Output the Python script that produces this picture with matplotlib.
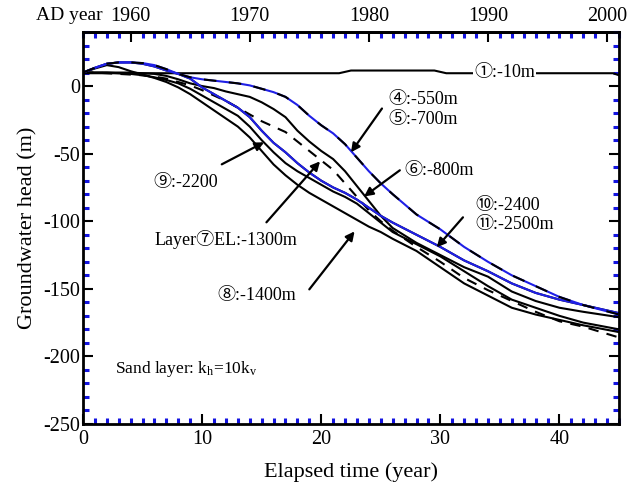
import matplotlib
matplotlib.use("Agg")
import matplotlib.pyplot as plt
from matplotlib.ticker import MultipleLocator, FuncFormatter

plt.rcParams['font.family'] = ['Liberation Serif', 'Noto Sans CJK JP', 'DejaVu Sans']
plt.rcParams['axes.unicode_minus'] = False
plt.rcParams['mathtext.fontset'] = 'custom'
plt.rcParams['mathtext.rm'] = 'Liberation Serif'
plt.rcParams['mathtext.it'] = 'Liberation Serif'

# ---- data ----
x_grid = [0, 1, 2, 3, 4, 5, 6, 7, 8, 9, 10, 11, 12, 13, 14, 15, 16, 17, 18, 19,
          20, 21, 22, 23, 24, 25, 26, 28, 30, 32, 34, 36, 38, 40, 42, 45]

head_4_5 = [10, 13.5, 16.5, 17.5, 17.5, 17, 15.5, 12.5, 9, 6.5, 5, 4, 3, 2, 0.5, -2, -4.5, -8, -14, -22,
            -29, -35, -43, -53, -63, -72, -80, -95, -106, -119, -130, -140, -148, -156, -162, -169]
head_10_11 = [10, 13.5, 16.5, 17.5, 17.5, 16.5, 14.5, 11.5, 9, 5.5, -1, -6, -11, -16, -23, -33, -42, -49, -57, -64,
              -70, -75, -79, -84, -90, -96, -101, -110, -119, -129, -137, -146, -153, -158, -162, -168]
head_6 = [10, 10, 10, 10, 10, 9.5, 9, 7.5, 5, 2, 0, -1.5, -4, -6, -8, -12, -17, -23, -33, -41,
          -48, -54, -63, -74, -85, -96, -105, -116, -125, -134, -141, -152, -159, -164, -167, -171]
head_7 = [10, 10, 9.5, 9, 8.5, 8, 7, 5.5, 3, 0.5, -3, -7, -11, -16, -21, -26, -30, -34, -41, -48,
          -55, -62, -72, -82, -92, -100, -107, -119, -130, -142, -151, -159, -167, -174, -178, -186]
head_9 = [10, 10, 10, 9.5, 9, 8, 6.5, 4.5, 2, -2, -7, -12, -17, -22, -30, -40, -49, -57, -63, -68,
          -73, -78, -82, -87, -94, -101, -108, -117, -126, -137, -148, -158, -164, -170, -175, -180]
head_8 = [10, 13, 15.5, 14, 11, 8.5, 6, 3, -1, -6, -12, -18, -24, -30, -38, -48, -58, -66, -73, -79,
          -84, -89, -94, -99, -104, -108, -113, -122, -134, -146, -155, -164, -169, -173, -177, -182]

x_1 = [0, 21.5, 22.5, 29.5, 30.5, 44.5, 45]
head_1 = [9.5, 9.5, 11.5, 11.5, 9.5, 9.5, 8]

start_year = 1956
top_ticks = [1960, 1970, 1980, 1990, 2000]

# ---- figure ----
fig = plt.figure(figsize=(6.27, 4.87), dpi=100)
ax = fig.add_axes([83/627, 1-424/487, 536/627, 392/487])

lw = 1.5
ax.plot(x_1, head_1, color='k', lw=lw)
ax.plot(x_grid, head_8, color='k', lw=lw)
ax.plot(x_grid, head_9, color='k', lw=lw)
ax.plot(x_grid, head_6, color='k', lw=lw)
ax.plot(x_grid, head_7, color='k', lw=lw, ls=(0, (5, 4)))
ax.plot(x_grid, head_10_11, color='k', lw=lw)
ax.plot(x_grid, head_10_11, color='#1f1fe6', lw=lw)
ax.plot(x_grid, head_4_5, color='#1f1fe6', lw=lw)
ax.plot(x_grid, head_4_5, color='k', lw=lw, ls=(0, (6, 6)))

ax.set_xlim(0, 45)
ax.set_ylim(-250, 40)

blue = '#1414e0'
ax.xaxis.set_major_locator(MultipleLocator(10))
ax.xaxis.set_minor_locator(MultipleLocator(1))
ax.yaxis.set_major_locator(MultipleLocator(50))
ax.yaxis.set_minor_locator(MultipleLocator(10))
ax.tick_params(which='major', direction='in', length=7, width=1.5, color='k',
               labelsize=14.5, top=False, right=True, pad=2)
ax.tick_params(axis='x', which='major', pad=4)
ax.tick_params(which='minor', direction='in', length=4, width=2.2, color=blue,
               top=False, right=True)
ax.yaxis.set_major_formatter(FuncFormatter(lambda v, p: '%d' % v))
for s in ax.spines.values():
    s.set_linewidth(2)

sec = ax.secondary_xaxis('top', functions=(lambda x: x + start_year, lambda y: y - start_year))
sec.set_xticks(top_ticks)
sec.xaxis.set_minor_locator(MultipleLocator(1))
sec.tick_params(which='major', direction='in', length=7, width=1.5, color='k', labelsize=14.5, pad=4)
sec.tick_params(which='minor', direction='in', length=4, width=2.2, color=blue)
sec.spines['top'].set_linewidth(2)

ax.set_xlabel('Elapsed time (year)', fontsize=16, labelpad=10)
ax.set_ylabel('Groundwater head (m)', fontsize=16, labelpad=4)
fig.text(103/627, 1-15/487, 'AD year', fontsize=14, ha='right', va='center')

fs = 13
ax.text(35.4, 10.1, '①:-10m', fontsize=fs, ha='center', va='center',
        bbox=dict(facecolor='white', edgecolor='none', pad=0.5))
ax.text(25.6, -9.9, '④:-550m', fontsize=fs, ha='left', va='center')
ax.text(25.6, -24.7, '⑤:-700m', fontsize=fs, ha='left', va='center')
ax.text(27.0, -62.3, '⑥:-800m', fontsize=fs, ha='left', va='center')
ax.text(32.9, -88.4, '⑩:-2400', fontsize=fs, ha='left', va='center')
ax.text(32.9, -102.4, '⑪:-2500m', fontsize=fs, ha='left', va='center')
ax.text(5.9, -71.2, '⑨:-2200', fontsize=fs, ha='left', va='center')
ax.text(6.0, -113.4, 'Layer⑦EL:-1300m', fontsize=fs, ha='left', va='center')
ax.text(11.3, -154.8, '⑧:-1400m', fontsize=fs, ha='left', va='center')
ax.text(2.7, -209, 'Sand layer: k$_\\mathrm{h}$=10k$_\\mathrm{v}$', fontsize=12.5, ha='left', va='center')

ap = dict(arrowstyle='-|>', lw=1.6, color='k', mutation_scale=13, shrinkA=0, shrinkB=0)
arrows = [((25.1, -16.6), (22.5, -49)),
          ((26.6, -62.3), (23.6, -81.7)),
          ((31.9, -97.1), (29.7, -119.3)),
          ((11.65, -57.9), (15.2, -41.6)),
          ((15.4, -100.8), (19.9, -55.7)),
          ((19.0, -150.4), (22.8, -107.5))]
for (xa, ya), (xb, yb) in arrows:
    ax.annotate('', xy=(xb, yb), xytext=(xa, ya), arrowprops=ap)

fig.savefig('out.png', dpi=100)
